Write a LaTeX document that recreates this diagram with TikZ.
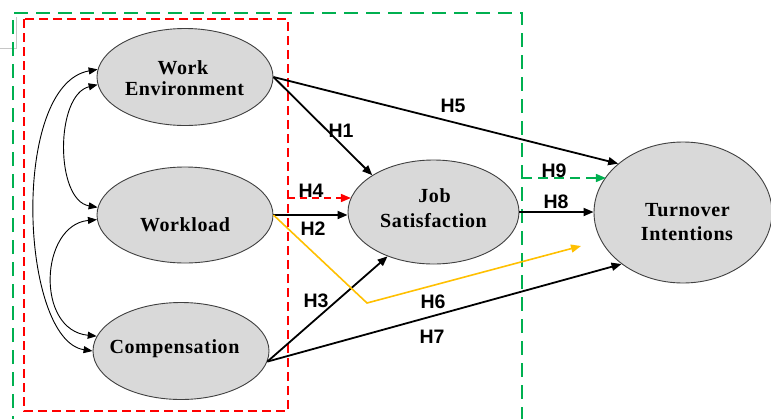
\documentclass[tikz,border=0pt]{standalone}
\usepackage{fontspec}
\setmainfont{Liberation Serif}
\newfontfamily\cfont{Liberation Serif}[LetterSpace=3]
\newfontfamily\hfont{Liberation Sans}
\usetikzlibrary{arrows.meta,shapes.geometric}

\definecolor{cfill}{RGB}{217,217,217}
\definecolor{cline}{RGB}{64,64,64}
\definecolor{dred}{RGB}{255,0,0}
\definecolor{dgreen}{RGB}{0,176,80}
\definecolor{dyellow}{RGB}{255,192,0}

\begin{document}
\begin{tikzpicture}[x=1pt,y=-1pt,
  construct/.style={ellipse, draw=cline, line width=0.9pt, fill=cfill, inner sep=0pt},
  ctext/.style={font=\cfont\fontsize{20}{22}\selectfont\bfseries, inner sep=0pt, anchor=base},
  hlab/.style={font=\hfont\fontsize{19.5}{22}\selectfont\bfseries, inner sep=0pt, anchor=base},
  hyp/.style={line width=1.8pt, -{Triangle[length=10pt,width=8pt]}},
  yhyp/.style={draw=dyellow, line width=1.6pt, -{Triangle[length=10pt,width=8pt]}},
  rhyp/.style={draw=dred, line width=1.6pt, dash pattern=on 7pt off 5pt, -{Triangle[length=10pt,width=8pt]}},
  ghyp/.style={draw=dgreen, line width=1.6pt, dash pattern=on 10pt off 6pt, -{Triangle[length=10pt,width=8pt]}},
  corr/.style={line width=0.9pt, {Triangle[length=9pt,width=7pt]}-{Triangle[length=9pt,width=7pt]}},
  redbox/.style={draw=dred, line width=1.8pt, dash pattern=on 9pt off 5pt},
  greenbox/.style={draw=dgreen, line width=1.8pt, dash pattern=on 14pt off 8pt}
]
\clip (0,0) rectangle (771,418);
\fill[white] (0,0) rectangle (771,418);

% frame corner at the top left
\draw[gray!45, line width=0.6pt] (0,48) -- (16,48) -- (16,17);

% grouping boxes
\draw[greenbox] (13,430) -- (13,13) -- (522,13) -- (522,430);
\draw[redbox] (24,19) rectangle (288,411);

% constructs
\node[construct, minimum width=176pt, minimum height=97pt] (we) at (185,77) {};
\node[construct, minimum width=176pt, minimum height=96pt] (wl) at (185,215) {};
\node[construct, minimum width=176pt, minimum height=97pt] (comp) at (181,351) {};
\node[construct, minimum width=171pt, minimum height=104pt] (js) at (433.5,212) {};
\node[construct, minimum width=178pt, minimum height=141pt] (ti) at (683,212.5) {};

\node[ctext] (we1) at (183,74) {Work};
\node[ctext] (we2) at (184.5,95) {Environment};
\node[ctext] (wl1) at (185,231) {Workload};
\node[ctext] (comp1) at (174.5,353) {Compensation};
\node[ctext] (js1) at (434.5,202) {Job};
\node[ctext] (js2) at (433.5,227) {Satisfaction};
\node[ctext] (ti1) at (687.5,216) {Turnover};
\node[ctext] (ti2) at (687,240) {Intentions};

% correlations between the predictors
\draw[corr] (we.175) .. controls (10,85) and (20,340) .. (comp.180);
\draw[corr] (we.185) .. controls (55,95) and (55,200) .. (wl.175);
\draw[corr] (wl.183) .. controls (40,225) and (35,330) .. (comp.170);

% hypothesised paths
\coordinate (h4s) at (288,198);
\coordinate (h9s) at (522,178);
\coordinate (h6c) at (367,303);
\coordinate (h6e) at (581,246);

\draw[hyp] (we.east) -- (ti.143);
\draw[hyp] (we.east) -- (js.149);
\draw[hyp] (wl.east) -- (wl.east -| js.west);
\draw[rhyp] (h4s) -- (h4s -| js.170);
\draw[hyp] (comp.-7) -- (js.-136);
\draw[hyp] (comp.-7) -- (ti.-140);
\draw[yhyp] (wl.east) -- (h6c) -- (h6e);
\draw[hyp] (js.east) -- (js.east -| ti.west);
\draw[ghyp] (h9s) -- (h9s -| ti.155);

% path labels
\node[hlab] (l5) at (453,112) {H5};
\node[hlab] (l1) at (341,137) {H1};
\node[hlab] (l4) at (311,197) {H4};
\node[hlab] (l2) at (313,235) {H2};
\node[hlab] (l9) at (554,177) {H9};
\node[hlab] (l8) at (556,208) {H8};
\node[hlab] (l3) at (316,307) {H3};
\node[hlab] (l6) at (433,308) {H6};
\node[hlab] (l7) at (432,343) {H7};
\end{tikzpicture}
\end{document}
